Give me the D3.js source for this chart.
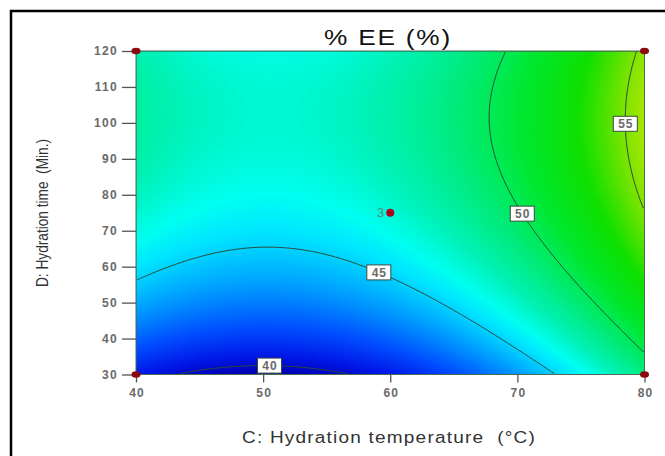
<!DOCTYPE html>
<html><head><meta charset="utf-8">
<script src="https://cdn.jsdelivr.net/npm/d3@7"></script>
<style>body{margin:0;background:#fff}svg{display:block}</style>
</head><body>
<svg id="c" width="665" height="456"></svg>
<script>
// ---- data ----
const chartTitle = "% EE (%)";
const xTitle = "C: Hydration temperature  (\u00B0C)";
const yTitle = "D: Hydration time  (Min.)";
const cTicks = [40, 50, 60, 70, 80];
const dTicks = [30, 40, 50, 60, 70, 80, 90, 100, 110, 120];
// quadratic response-surface model in coded units: b0, C, D, CD, C^2, D^2
const modelTerms = ["b0", "C", "D", "CD", "C2", "D2"];
const modelCoefs = [46.83, 3.98, 3.437, -0.18, 4.16, -2.855];
const contourLevels = [40, 45, 50, 55];
const labelC = [50.5, 59, 70.6, 79.0];
const labelD = [33.5, 58.5, 75, 100];
const designC = [40, 40, 80, 80, 60];
const designD = [30, 120, 30, 120, 75];
const designReps = [1, 1, 1, 1, 3];
const colorStopValues = [39.5, 40.5, 42, 44, 45.5, 46.3, 47.5, 49, 51, 53, 55, 56.5];
const colorStopColors = ["#0000b0", "#0018e8", "#0050ff", "#00a8ff", "#00e8ff", "#00fff0",
                         "#00f2b8", "#00ec80", "#00e830", "#10e000", "#80e400", "#c0ec00"];

// ---- drawing ----
const svg = d3.select("#c");
svg.append("rect").attr("width", 665).attr("height", 456).attr("fill", "#fff");
svg.append("rect").attr("x", 11).attr("y", 11).attr("width", 700).attr("height", 500)
  .attr("fill", "none").attr("stroke", "#000").attr("stroke-width", 2.5);

const x = d3.scaleLinear().domain([40, 80]).range([136, 644.5]);
const y = d3.scaleLinear().domain([30, 120]).range([374.5, 51]);

function model(c, d) {
  const a = (c - 60) / 20, b = (d - 75) / 45, k = modelCoefs;
  return k[0] + k[1] * a + k[2] * b + k[3] * a * b + k[4] * a * a + k[5] * b * b;
}
const nx = 200, ny = 180;
const values = new Float64Array(nx * ny);
for (let j = 0; j < ny; j++) {
  const d = 120 - (j + 0.5) / ny * 90;
  for (let i = 0; i < nx; i++) {
    const c = 40 + (i + 0.5) / nx * 40;
    values[j * nx + i] = model(c, d);
  }
}
const proj = d3.geoTransform({
  point: function(u, v) { this.stream.point(x(40 + u / nx * 40), y(120 - v / ny * 90)); }
});
const path = d3.geoPath(proj);
const color = d3.scaleLinear().domain(colorStopValues).range(colorStopColors).clamp(true);

const defs = svg.append("defs");
defs.append("clipPath").attr("id", "plotclip").append("rect")
  .attr("x", x(40)).attr("y", y(120)).attr("width", x(80) - x(40)).attr("height", y(30) - y(120));
defs.append("clipPath").attr("id", "lineclip").append("rect")
  .attr("x", x(40) + 0.8).attr("y", y(120) + 0.8).attr("width", x(80) - x(40) - 1.6).attr("height", y(30) - y(120) - 1.6);

const ext = d3.extent(values);
const thresholds = d3.range(Math.floor(ext[0] * 10) / 10, ext[1], 0.1);
const bands = d3.contours().size([nx, ny]).thresholds(thresholds)(values);
const g = svg.append("g").attr("clip-path", "url(#plotclip)");
g.selectAll("path.band").data(bands).join("path").attr("class", "band")
  .attr("d", path).attr("fill", d => color(d.value + 0.05)).attr("stroke", d => color(d.value + 0.05)).attr("stroke-width", 0.3);

const lines = d3.contours().size([nx, ny]).thresholds(contourLevels)(values);
svg.append("g").attr("clip-path", "url(#lineclip)").selectAll("path").data(lines).join("path")
  .attr("d", path).attr("fill", "none").attr("stroke", "#2a4a38").attr("stroke-width", 1);

// frame
svg.append("rect").attr("x", x(40)).attr("y", y(120)).attr("width", x(80) - x(40)).attr("height", y(30) - y(120))
  .attr("fill", "none").attr("stroke", "#4a6a55").attr("stroke-width", 1);

// axes
const tickFont = "Liberation Sans, Arial, sans-serif";
const ya = svg.append("g").attr("transform", `translate(${x(40)},0)`)
  .call(d3.axisLeft(y).tickValues(dTicks).tickSize(14).tickPadding(4));
const xa = svg.append("g").attr("transform", `translate(0,${y(30)})`)
  .call(d3.axisBottom(x).tickValues(cTicks).tickSize(8).tickPadding(6));
[ya, xa].forEach(a => {
  a.select(".domain").remove();
  a.selectAll(".tick line").attr("stroke", "#555").attr("stroke-width", 1.3);
  a.selectAll(".tick text").attr("fill", "#6a6a6a").style("font-family", tickFont)
    .style("font-size", "12px").style("font-weight", "bold").style("letter-spacing", "1.3px");
});
xa.selectAll(".tick text").attr("dx", "0.6px");

// contour labels snapped to their lines
lines.forEach((ln, k) => {
  const tx = x(labelC[k]), ty = y(labelD[k]);
  let best = null, bd = Infinity;
  ln.coordinates.forEach(poly => poly.forEach(ring => ring.forEach(p => {
    const px = x(40 + p[0] / nx * 40), py = y(120 - p[1] / ny * 90);
    const dd = (px - tx) ** 2 + (py - ty) ** 2;
    if (dd < bd) { bd = dd; best = [px, py]; }
  })));
  if (!best || bd > 400) best = [tx, ty];
  const lg = svg.append("g").attr("transform", `translate(${best[0]},${best[1]})`);
  lg.append("rect").attr("x", -12).attr("y", -7.5).attr("width", 24).attr("height", 15)
    .attr("fill", "#fff").attr("stroke", "#3a4a40").attr("stroke-width", 1);
  lg.append("text").attr("text-anchor", "middle").attr("dy", "0.36em").attr("dx", "0.5px").attr("fill", "#6a6a6a")
    .style("font-family", tickFont).style("font-size", "12px").style("font-weight", "bold")
    .style("letter-spacing", "1px").text(contourLevels[k]);
});

// design points
designC.forEach((c, i) => {
  const center = designReps[i] > 1;
  svg.append("ellipse").attr("cx", x(c)).attr("cy", y(designD[i]))
    .attr("rx", center ? 4 : 4.5).attr("ry", center ? 4 : 3.3)
    .attr("fill", center ? "#b0001a" : "#8a0a10");
  if (center) {
    svg.append("text").attr("x", x(c) - 6).attr("y", y(designD[i])).attr("dy", "0.36em")
      .attr("text-anchor", "end").attr("fill", "#5a8a78")
      .style("font-family", tickFont).style("font-size", "13px").text(designReps[i]);
  }
});

// titles
svg.append("text").attr("x", 388).attr("y", 45).attr("text-anchor", "middle").attr("fill", "#111")
  .attr("textLength", 128).attr("lengthAdjust", "spacingAndGlyphs")
  .style("font-family", tickFont).style("font-size", "22px").style("letter-spacing", "1.5px").text(chartTitle);
svg.append("text").attr("x", 389).attr("y", 443).attr("text-anchor", "middle").attr("fill", "#333")
  .attr("xml:space", "preserve").style("white-space", "pre")
  .attr("textLength", 294).attr("lengthAdjust", "spacingAndGlyphs")
  .style("font-family", tickFont).style("font-size", "16px").style("letter-spacing", "1px").text(xTitle);
svg.append("text").attr("transform", "translate(48,213) rotate(-90)").attr("text-anchor", "middle").attr("fill", "#333")
  .attr("xml:space", "preserve").style("white-space", "pre")
  .attr("textLength", 148).attr("lengthAdjust", "spacingAndGlyphs")
  .style("font-family", tickFont).style("font-size", "17px").text(yTitle);
</script>
</body></html>
